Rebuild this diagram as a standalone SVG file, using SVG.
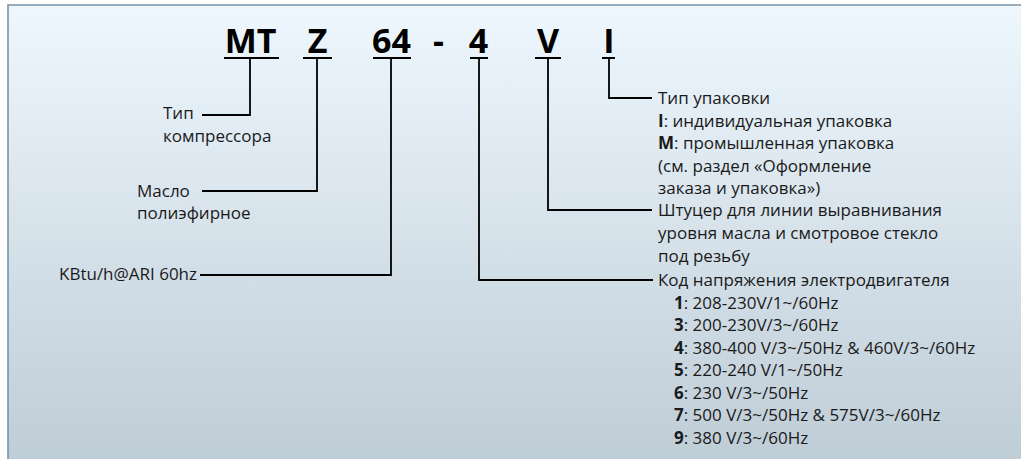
<svg xmlns="http://www.w3.org/2000/svg" width="1021" height="459" viewBox="0 0 1021 459">
  <defs>
    <linearGradient id="bg" x1="0" y1="0" x2="0" y2="1">
      <stop offset="0" stop-color="#eef7fe"/>
      <stop offset="1" stop-color="#bfcdd7"/>
    </linearGradient>
  </defs>
  <style>
    .code { font-family: "Open Sans", "Liberation Sans", sans-serif; font-weight: 700; font-size: 34px; fill: #000; text-anchor: middle; }
    .lbl { font-family: "Open Sans", "Liberation Sans", sans-serif; font-size: 17px; fill: #1a1a1a; }
    .b { font-weight: 700; }
    .ln { fill: none; stroke: #000; stroke-width: 1.8; }
    .ul { fill: none; stroke: #000; stroke-width: 1.8; }
  </style>
  <rect x="0" y="0" width="1021" height="459" fill="#ffffff"/>
  <rect x="8" y="5" width="1013" height="454" fill="url(#bg)"/>
  <path d="M8 459 V5 H1021" fill="none" stroke="#7a93a8" stroke-width="1.6"/>

  <g id="code">
    <text class="code" x="250.5" y="53">MT</text>
    <text class="code" x="317.5" y="53">Z</text>
    <text class="code" x="391.5" y="53">64</text>
    <text class="code" x="438.5" y="53">-</text>
    <text class="code" x="478.5" y="53">4</text>
    <text class="code" x="548" y="53">V</text>
    <text class="code" x="609" y="53">I</text>
  </g>

  <g id="connectors">
    <path class="ul" d="M224 58 H279 M303 58 H332 M373 58 H411 M470 58 H488 M535 58 H561 M602 58 H615"/>
    <path class="ln" d="M250 58 V115 H202"/>
    <path class="ln" d="M317 58 V191 H202"/>
    <path class="ln" d="M391 58 V275 H200"/>
    <path class="ln" d="M479 58 V280 H653"/>
    <path class="ln" d="M548 58 V210 H652"/>
    <path class="ln" d="M609 58 V98 H652"/>
  </g>

  <g id="node-type">
    <text class="lbl" x="163" y="119">Тип</text>
    <text class="lbl" x="163" y="141.5">компрессора</text>
  </g>
  <g id="node-oil">
    <text class="lbl" x="137" y="196.5">Масло</text>
    <text class="lbl" x="137" y="219">полиэфирное</text>
  </g>
  <g id="node-capacity">
    <text class="lbl" x="59" y="280">KBtu/h@ARI 60hz</text>
  </g>
  <g id="node-packaging">
    <text class="lbl" x="658" y="104">Тип упаковки</text>
    <text class="lbl" x="658" y="126.5"><tspan class="b">I</tspan>: индивидуальная упаковка</text>
    <text class="lbl" x="658" y="149"><tspan class="b">M</tspan>: промышленная упаковка</text>
    <text class="lbl" x="658" y="171.5">(см. раздел «Оформление</text>
    <text class="lbl" x="658" y="194">заказа и упаковка»)</text>
  </g>
  <g id="node-fitting">
    <text class="lbl" x="658" y="216">Штуцер для линии выравнивания</text>
    <text class="lbl" x="658" y="239">уровня масла и смотровое стекло</text>
    <text class="lbl" x="658" y="262">под резьбу</text>
  </g>
  <g id="node-voltage">
    <text class="lbl" x="658" y="286">Код напряжения электродвигателя</text>
    <text class="lbl" x="674" y="308.5"><tspan class="b">1</tspan>: 208-230V/1~/60Hz</text>
    <text class="lbl" x="674" y="331"><tspan class="b">3</tspan>: 200-230V/3~/60Hz</text>
    <text class="lbl" x="674" y="353.5"><tspan class="b">4</tspan>: 380-400 V/3~/50Hz &amp; 460V/3~/60Hz</text>
    <text class="lbl" x="674" y="376"><tspan class="b">5</tspan>: 220-240 V/1~/50Hz</text>
    <text class="lbl" x="674" y="398.5"><tspan class="b">6</tspan>: 230 V/3~/50Hz</text>
    <text class="lbl" x="674" y="421"><tspan class="b">7</tspan>: 500 V/3~/50Hz &amp; 575V/3~/60Hz</text>
    <text class="lbl" x="674" y="443.5"><tspan class="b">9</tspan>: 380 V/3~/60Hz</text>
  </g>
</svg>
